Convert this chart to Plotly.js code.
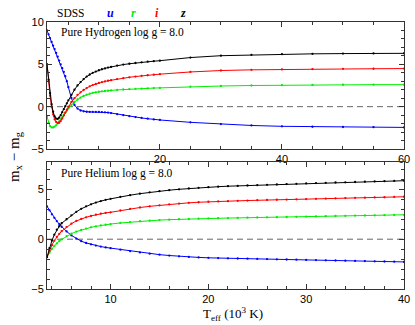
<!DOCTYPE html>
<html>
<head>
<meta charset="utf-8">
<script src="https://cdn.plot.ly/plotly-3.0.1.min.js"></script>
<style>html,body{margin:0;padding:0;background:#fff;}#chart{width:415px;height:325px;}</style>
</head>
<body>
<div id="chart"></div>
<script>
// Pure Hydrogen, log g = 8.0 (Teff in 10^3 K)
var hTeff = [1.5,1.75,2,2.25,2.5,2.75,3,3.25,3.5,3.75,4,4.25,4.5,4.75,5,5.5,6,6.5,7,7.5,8,8.5,9,9.5,10,10.5,11,11.5,12,13,14,15,16,17,18,19,20,25,30,35,40,45,50,55,60];
var hU = [9.0,8.55,8.1,7.65,7.2,6.8,6.35,5.9,5.45,5.0,4.55,4.1,3.6,3.0,2.3,1.0,0.2,-0.22,-0.45,-0.55,-0.6,-0.62,-0.62,-0.62,-0.62,-0.64,-0.67,-0.7,-0.75,-0.88,-1.0,-1.12,-1.23,-1.33,-1.42,-1.5,-1.57,-1.85,-2.05,-2.22,-2.32,-2.37,-2.4,-2.42,-2.45];
var hR = [-1.2,-1.9,-2.3,-2.45,-2.45,-2.35,-2.2,-2.0,-1.75,-1.5,-1.25,-0.95,-0.7,-0.45,-0.2,0.2,0.55,0.85,1.08,1.27,1.42,1.54,1.63,1.7,1.76,1.81,1.85,1.89,1.92,1.98,2.03,2.07,2.11,2.14,2.17,2.2,2.22,2.36,2.44,2.5,2.54,2.57,2.59,2.6,2.6];
var hI = [5.0,3.0,1.3,0.0,-0.9,-1.5,-1.8,-1.92,-1.9,-1.7,-1.4,-1.05,-0.7,-0.35,0.0,0.55,1.0,1.4,1.7,1.97,2.2,2.4,2.55,2.68,2.8,2.9,2.98,3.06,3.13,3.26,3.37,3.47,3.56,3.64,3.71,3.78,3.84,4.1,4.27,4.35,4.4,4.44,4.47,4.48,4.5];
var hZ = [5.0,3.2,1.6,0.3,-0.6,-1.15,-1.4,-1.45,-1.3,-1.0,-0.65,-0.3,0.05,0.4,0.75,1.4,2.0,2.5,2.9,3.25,3.55,3.8,4.0,4.15,4.3,4.42,4.52,4.62,4.7,4.85,4.97,5.07,5.16,5.24,5.31,5.37,5.43,5.8,6.02,6.12,6.2,6.24,6.27,6.29,6.3];

// Pure Helium, log g = 8.0
var heTeff = [3.5,3.75,4,4.25,4.5,4.75,5,5.5,6,6.5,7,7.5,8,8.5,9,9.5,10,11,12,13,14,15,16,17,18,19,20,21,22,23,24,25,26,27,28,29,30,31,32,33,34,35,36,37,38,39,40];
var heU = [3.3,2.9,2.5,2.15,1.82,1.52,1.25,0.78,0.38,0.05,-0.2,-0.38,-0.52,-0.64,-0.74,-0.83,-0.9,-1.05,-1.2,-1.33,-1.45,-1.55,-1.64,-1.72,-1.78,-1.83,-1.87,-1.9,-1.92,-1.94,-1.96,-1.98,-2.0,-2.02,-2.04,-2.06,-2.08,-2.1,-2.12,-2.14,-2.16,-2.18,-2.2,-2.22,-2.24,-2.26,-2.28];
var heR = [-1.8,-1.35,-0.98,-0.68,-0.42,-0.2,-0.02,0.3,0.55,0.76,0.93,1.07,1.19,1.29,1.38,1.45,1.52,1.63,1.72,1.8,1.86,1.92,1.96,2.0,2.03,2.06,2.08,2.1,2.12,2.14,2.16,2.18,2.2,2.21,2.23,2.25,2.27,2.29,2.31,2.33,2.35,2.37,2.38,2.4,2.42,2.44,2.45];
var heI = [-1.8,-1.15,-0.6,-0.15,0.22,0.53,0.8,1.22,1.56,1.83,2.03,2.2,2.34,2.46,2.56,2.64,2.7,2.88,3.05,3.18,3.3,3.4,3.5,3.58,3.65,3.71,3.76,3.79,3.82,3.85,3.88,3.92,3.94,3.96,3.98,4.0,4.03,4.05,4.08,4.1,4.13,4.15,4.17,4.19,4.21,4.24,4.26];
var heZ = [-1.8,-0.9,-0.15,0.45,0.95,1.3,1.6,2.0,2.4,2.75,3.05,3.3,3.5,3.68,3.83,3.95,4.05,4.25,4.42,4.57,4.7,4.82,4.92,5.01,5.09,5.16,5.22,5.27,5.32,5.35,5.39,5.42,5.46,5.49,5.53,5.56,5.6,5.63,5.66,5.69,5.71,5.74,5.77,5.8,5.82,5.85,5.87];

var bands = ['u','r','i','z'];
var bandColors = ['#0000ff','#00ee00','#ff0000','#000000'];
var hSeries = [hU,hR,hI,hZ];
var heSeries = [heU,heR,heI,heZ];

var traces = [];
for (var k = 0; k < bands.length; k++) {
  traces.push({x: hTeff, y: hSeries[k], xaxis: 'x', yaxis: 'y', type: 'scatter', mode: 'lines+markers',
    line: {color: bandColors[k], width: 1}, marker: {color: bandColors[k], size: 2.3}, showlegend: false, hoverinfo: 'skip'});
  traces.push({x: heTeff, y: heSeries[k], xaxis: 'x2', yaxis: 'y2', type: 'scatter', mode: 'lines+markers',
    line: {color: bandColors[k], width: 1}, marker: {color: bandColors[k], size: 2.3}, showlegend: false, hoverinfo: 'skip'});
}

var tickFont = {family: 'Liberation Sans, Arial, sans-serif', size: 11, color: '#000'};
function ax(extra) {
  var base = {showgrid: false, zeroline: false, showline: true, linecolor: '#333', linewidth: 1,
    ticks: 'inside', ticklen: 5, tickwidth: 1, tickcolor: '#333', mirror: 'allticks',
    tickfont: tickFont,
    minor: {ticks: 'inside', ticklen: 3, tickwidth: 1, tickcolor: '#333', showgrid: false}};
  for (var key in extra) {
    if (key === 'minor') { for (var m in extra.minor) base.minor[m] = extra.minor[m]; }
    else base[key] = extra[key];
  }
  return base;
}

var serif = 'Liberation Serif, Times New Roman, serif';
var headerX = [0.067, 0.177, 0.242, 0.309, 0.382];
var headerText = ['SDSS'].concat(bands);
var annotations = [];
for (var j = 0; j < headerText.length; j++) {
  annotations.push({xref: 'paper', yref: 'paper', x: headerX[j], y: 1.032, showarrow: false,
    text: j === 0 ? headerText[j] : '<b><i>' + headerText[j] + '</i></b>',
    font: {family: serif, size: j === 0 ? 11.5 : 12, color: j === 0 ? '#000' : bandColors[j - 1]},
    xanchor: 'center', yanchor: 'middle'});
}
annotations.push({xref: 'x domain', yref: 'y domain', x: 0.034, y: 0.988, xanchor: 'left', yanchor: 'top', showarrow: false,
  text: 'Pure Hydrogen log g = 8.0', font: {family: serif, size: 11.5, color: '#000'}});
annotations.push({xref: 'x2 domain', yref: 'y2 domain', x: 0.034, y: 0.978, xanchor: 'left', yanchor: 'top', showarrow: false,
  text: 'Pure Helium log g = 8.0', font: {family: serif, size: 11.5, color: '#000'}});
annotations.push({xref: 'paper', yref: 'paper', x: -0.09, y: 0.498, xanchor: 'center', yanchor: 'middle', showarrow: false,
  textangle: -90, text: 'm<sub>x</sub> \u2212 m<sub>g</sub>', font: {family: serif, size: 15, color: '#000'}});
annotations.push({xref: 'paper', yref: 'paper', x: 0.522, y: -0.095, xanchor: 'center', yanchor: 'middle', showarrow: false,
  text: 'T<sub>eff</sub> (10<sup>3</sup> K)', font: {family: serif, size: 13, color: '#000'}});

var layout = {
  width: 415, height: 325,
  margin: {l: 47, r: 11, t: 22, b: 36, pad: 0},
  paper_bgcolor: '#fff', plot_bgcolor: '#fff',
  xaxis: ax({anchor: 'y', domain: [0, 1], range: [1.5, 60], tick0: 0, dtick: 20, minor: {dtick: 5, tick0: 0}}),
  yaxis: ax({anchor: 'x', domain: [0.5243, 1], range: [-5, 10], tick0: 0, dtick: 5, minor: {dtick: 1, tick0: 0}}),
  xaxis2: ax({anchor: 'y2', domain: [0, 1], range: [3.5, 40], tick0: 0, dtick: 10, minor: {dtick: 2, tick0: 0}}),
  yaxis2: ax({anchor: 'x2', domain: [0, 0.4757], range: [-5, 7.75], tick0: 0, dtick: 5, minor: {dtick: 1, tick0: 0}}),
  shapes: [
    {type: 'line', xref: 'x domain', yref: 'y', x0: 0, x1: 1, y0: 0, y1: 0, line: {color: '#666', width: 1, dash: '6px,4px'}, layer: 'below'},
    {type: 'line', xref: 'x2 domain', yref: 'y2', x0: 0, x1: 1, y0: 0, y1: 0, line: {color: '#666', width: 1, dash: '6px,4px'}, layer: 'below'}
  ],
  annotations: annotations,
  showlegend: false
};

Plotly.newPlot('chart', traces, layout, {staticPlot: true, displayModeBar: false});
</script>
</body>
</html>
